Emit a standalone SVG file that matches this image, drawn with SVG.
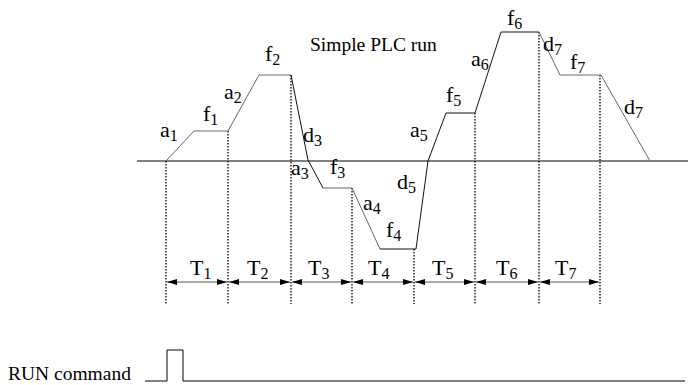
<svg xmlns="http://www.w3.org/2000/svg" width="688" height="385" viewBox="0 0 688 385">
<defs>
<marker id="ah" viewBox="0 0 10 6" refX="10" refY="3" markerWidth="10" markerHeight="6" markerUnits="userSpaceOnUse" orient="auto-start-reverse">
<path d="M0,0 L10,3 L0,6 Z" fill="#000"/>
</marker>
</defs>
<style>
.lbl{font-family:"Liberation Serif","Times New Roman",serif;font-size:22px;fill:#000}
.sub{font-size:16px}
.t{font-family:"Liberation Serif","Times New Roman",serif;font-size:19.5px;fill:#000}
.dot{stroke:#000;stroke-width:1.3;stroke-dasharray:1.5 1.5;fill:none}
.g{stroke:#666;stroke-width:1;fill:none}
.k{stroke:#111;stroke-width:1;fill:none}
.dim{stroke:#555;stroke-width:1;fill:none;marker-start:url(#ah);marker-end:url(#ah)}
</style>
<rect width="688" height="385" fill="#fff"/>
<g id="axis">
<line x1="137" y1="161" x2="688" y2="161" stroke="#000" stroke-width="1"/>
</g>
<g id="connectors">
<g id="guides">
<line class="dot" x1="166" y1="161" x2="166" y2="304"/>
<line class="dot" x1="228" y1="131" x2="228" y2="304"/>
<line class="dot" x1="291" y1="75" x2="291" y2="304"/>
<line class="dot" x1="352" y1="188" x2="352" y2="304"/>
<line class="dot" x1="414" y1="249" x2="414" y2="304"/>
<line class="dot" x1="475" y1="113" x2="475" y2="304"/>
<line class="dot" x1="539" y1="32" x2="539" y2="304"/>
<line class="dot" x1="600" y1="75" x2="600" y2="304"/>
</g>
<g id="curve">
<polyline class="g" points="166,161 194,131 228,131 259,75 291,75"/>
<polyline class="k" points="291,75 308,160 323,188"/>
<polyline class="g" points="323,188 352,188 380,249"/>
<polyline class="k" points="380,249 414,249 416,249 428,161 446,113 475,113 501,32 539,32"/>
<polyline class="g" points="539,32 560,75 601,75 650,161"/>
</g>
<g id="dims">
<line class="dim" x1="167" y1="282" x2="227" y2="282"/>
<line class="dim" x1="229" y1="282" x2="290" y2="282"/>
<line class="dim" x1="292" y1="282" x2="351" y2="282"/>
<line class="dim" x1="353" y1="282" x2="413" y2="282"/>
<line class="dim" x1="415" y1="282" x2="474" y2="282"/>
<line class="dim" x1="476" y1="282" x2="538" y2="282"/>
<line class="dim" x1="540" y1="282" x2="599" y2="282"/>
</g>
</g>
<g id="labels">
<text class="t" x="310" y="51">Simple PLC run</text>
<text class="lbl" x="160" y="137">a<tspan class="sub" dy="4">1</tspan></text>
<text class="lbl" x="203" y="121">f<tspan class="sub" dy="4">1</tspan></text>
<text class="lbl" x="224" y="99">a<tspan class="sub" dy="4">2</tspan></text>
<text class="lbl" x="265" y="61">f<tspan class="sub" dy="4">2</tspan></text>
<text class="lbl" x="303" y="142">d<tspan class="sub" dy="4">3</tspan></text>
<text class="lbl" x="291" y="175">a<tspan class="sub" dy="4">3</tspan></text>
<text class="lbl" x="330" y="174">f<tspan class="sub" dy="4">3</tspan></text>
<text class="lbl" x="363" y="210">a<tspan class="sub" dy="4">4</tspan></text>
<text class="lbl" x="386" y="237">f<tspan class="sub" dy="4">4</tspan></text>
<text class="lbl" x="397" y="189">d<tspan class="sub" dy="4">5</tspan></text>
<text class="lbl" x="410" y="137">a<tspan class="sub" dy="4">5</tspan></text>
<text class="lbl" x="446" y="102">f<tspan class="sub" dy="4">5</tspan></text>
<text class="lbl" x="471" y="66">a<tspan class="sub" dy="4">6</tspan></text>
<text class="lbl" x="507" y="25">f<tspan class="sub" dy="4">6</tspan></text>
<text class="lbl" x="543" y="51">d<tspan class="sub" dy="4">7</tspan></text>
<text class="lbl" x="570" y="69">f<tspan class="sub" dy="4">7</tspan></text>
<text class="lbl" x="624" y="114">d<tspan class="sub" dy="4">7</tspan></text>
<text class="lbl" x="190" y="275">T<tspan class="sub" dy="4">1</tspan></text>
<text class="lbl" x="247" y="275">T<tspan class="sub" dy="4">2</tspan></text>
<text class="lbl" x="308" y="275">T<tspan class="sub" dy="4">3</tspan></text>
<text class="lbl" x="368" y="275">T<tspan class="sub" dy="4">4</tspan></text>
<text class="lbl" x="432" y="275">T<tspan class="sub" dy="4">5</tspan></text>
<text class="lbl" x="496" y="275">T<tspan class="sub" dy="4">6</tspan></text>
<text class="lbl" x="555" y="275">T<tspan class="sub" dy="4">7</tspan></text>
</g>
<g id="run">
<text class="t" x="8" y="380">RUN command</text>
<polyline points="145,381 167,381 167,350 183,350 183,381 685,381" fill="none" stroke="#000" stroke-width="1"/>
</g>
</svg>
